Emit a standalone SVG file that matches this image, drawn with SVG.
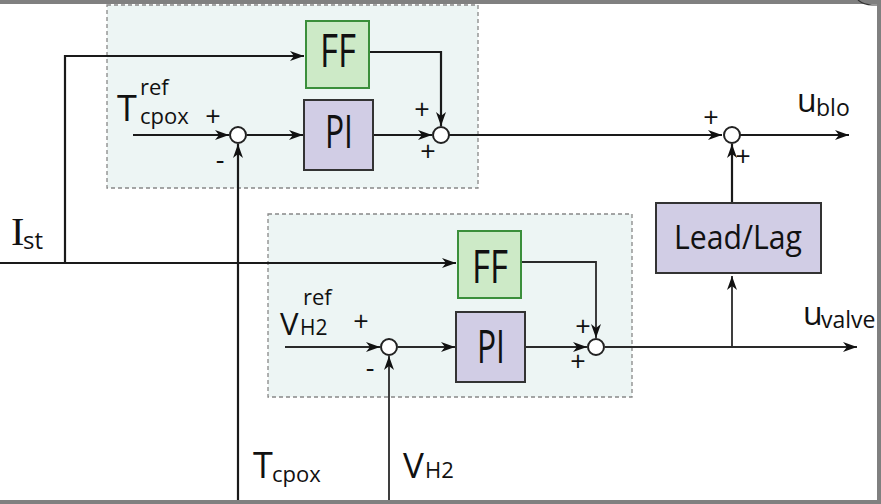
<svg xmlns="http://www.w3.org/2000/svg" width="881" height="504" viewBox="0 0 881 504">
<defs>
<style>
.ln{fill:none;stroke:#1a1a1a;stroke-width:2.2}
.ln2{fill:none;stroke:#2a2a2a;stroke-width:1.8}
.grp{fill:#edf5f4;stroke:#888;stroke-width:1.3;stroke-dasharray:4 3}
.ff{fill:#cdeac7;stroke:#3b8f3b;stroke-width:2}
.pi{fill:#d1cde5;stroke:#333;stroke-width:2}
.sum{fill:#fff;stroke:#222;stroke-width:2}
.t{font-family:"Open Sans","Noto Sans",sans-serif;fill:#111}
.blk{font-size:45px;text-anchor:middle}
.sg{font-family:"Open Sans","Noto Sans",sans-serif;font-size:27px;fill:#111;text-anchor:middle}
.serif{font-family:"Liberation Serif",serif;fill:#111}
</style>
<marker id="ar" markerUnits="userSpaceOnUse" markerWidth="15" markerHeight="11" refX="14" refY="5" orient="auto" viewBox="0 0 15 11">
<path d="M0,0 L14,5 L0,10 L4,5 z" fill="#111"/>
</marker>
</defs>
<rect x="0" y="0" width="881" height="504" fill="#fff"/>
<!-- window border -->
<rect x="0" y="0" width="881" height="4" fill="#808080"/>
<rect x="877" y="0" width="4" height="504" fill="#808080"/>
<rect x="0" y="500" width="881" height="4" fill="#808080"/>
<path d="M858,0 Q864,5 872,5 L877,5" fill="none" stroke="#333" stroke-width="1.2"/>

<g id="group-top"><rect class="grp" x="107" y="5" width="371" height="183"/></g>
<g id="group-bottom"><rect class="grp" x="268" y="214" width="364" height="183"/></g>

<g id="connectors">
<path class="ln" d="M0,263 L456,263" marker-end="url(#ar)"/>
<path class="ln" d="M65,263 L65,56 L304,56" marker-end="url(#ar)"/>
<path class="ln" d="M133,135 L229,135" marker-end="url(#ar)"/>
<path class="ln" d="M247,135 L303,135" marker-end="url(#ar)"/>
<path class="ln" d="M373,135 L432,135" marker-end="url(#ar)"/>
<path class="ln" d="M369,52 L441,52 L441,126" marker-end="url(#ar)"/>
<path class="ln" d="M449,135 L722,135" marker-end="url(#ar)"/>
<path class="ln" d="M740,135 L849,135" marker-end="url(#ar)"/>
<path class="ln" d="M238,500 L238,144" marker-end="url(#ar)"/>
<path class="ln" d="M732,203 L732,144" marker-end="url(#ar)"/>
<path class="ln2" d="M285,347 L380,347" marker-end="url(#ar)"/>
<path class="ln2" d="M398,347 L455,347" marker-end="url(#ar)"/>
<path class="ln2" d="M525,347 L587,347" marker-end="url(#ar)"/>
<path class="ln2" d="M521,262 L596,262 L596,338" marker-end="url(#ar)"/>
<path class="ln2" d="M605,347 L857,347" marker-end="url(#ar)"/>
<path class="ln2" d="M732,347 L732,276" marker-end="url(#ar)"/>
<path class="ln2" d="M389,500 L389,356" marker-end="url(#ar)"/>
</g>

<g id="ff1"><rect class="ff" x="306" y="21" width="63" height="67"/><text class="t blk" x="338" y="67" textLength="36" lengthAdjust="spacingAndGlyphs">FF</text></g>
<g id="pi1"><rect class="pi" x="304" y="100" width="69" height="70"/><text class="t blk" x="339" y="148" textLength="28" lengthAdjust="spacingAndGlyphs">PI</text></g>
<g id="ff2"><rect class="ff" x="458" y="231" width="63" height="67"/><text class="t blk" x="490" y="283" textLength="36" lengthAdjust="spacingAndGlyphs">FF</text></g>
<g id="pi2"><rect class="pi" x="456" y="312" width="69" height="70"/><text class="t blk" x="491" y="363" textLength="28" lengthAdjust="spacingAndGlyphs">PI</text></g>
<g id="leadlag"><rect class="pi" x="656" y="203" width="165" height="70"/><text class="t" x="738" y="249" font-size="32" text-anchor="middle" textLength="128" lengthAdjust="spacingAndGlyphs">Lead/Lag</text></g>

<g id="sum1"><circle class="sum" cx="238" cy="135" r="8"/><text class="sg" x="213" y="126">+</text><text class="sg" x="220" y="169">-</text></g>
<g id="sum2"><circle class="sum" cx="441" cy="135" r="8"/><text class="sg" x="422" y="119">+</text><text class="sg" x="428" y="161">+</text></g>
<g id="sum3"><circle class="sum" cx="732" cy="135" r="8"/><text class="sg" x="711" y="127">+</text><text class="sg" x="743" y="166">+</text></g>
<g id="sum4"><circle class="sum" cx="389" cy="347" r="8"/><text class="sg" x="361" y="331">+</text><text class="sg" x="370" y="377">-</text></g>
<g id="sum5"><circle class="sum" cx="596" cy="347" r="8"/><text class="sg" x="583" y="336">+</text><text class="sg" x="578" y="371">+</text></g>

<g id="labels">
<text class="t" x="117" y="121" font-size="36">T</text>
<text class="t" x="140" y="95" font-size="22">ref</text>
<text class="t" x="140" y="124" font-size="22">cpox</text>
<text class="t" x="797" y="112" font-size="32">u</text>
<text class="t" x="816" y="116" font-size="23">blo</text>
<text class="t" x="803" y="325" font-size="32">u</text>
<text class="t" x="821" y="328" font-size="23">valve</text>
<text class="serif" x="11" y="245" font-size="40">I</text>
<text class="t" x="23" y="249" font-size="24">st</text>
<text class="t" x="253" y="478" font-size="36">T</text>
<text class="t" x="272" y="482" font-size="22">cpox</text>
<text class="t" x="403" y="478" font-size="35">V</text>
<text class="t" x="425" y="478" font-size="22">H2</text>
<text class="t" x="280" y="335" font-size="31">V</text>
<text class="t" x="303" y="305" font-size="22">ref</text>
<text class="t" x="300" y="335" font-size="21">H2</text>
</g>
</svg>
